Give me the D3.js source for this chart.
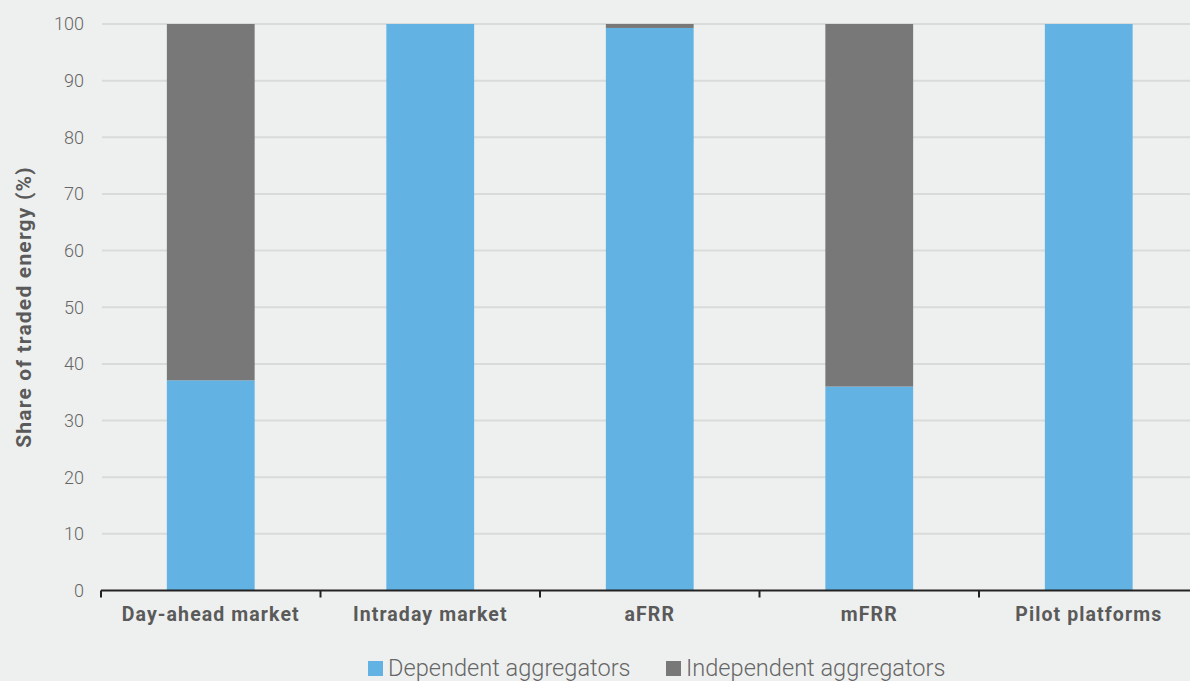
<!DOCTYPE html>
<html><head><meta charset="utf-8">
<script src="https://cdn.jsdelivr.net/npm/d3@7"></script>
<style>
body{margin:0;background:#eef0ef;}
svg{display:block;}
</style></head>
<body>
<svg id="c" width="1190" height="681"></svg>
<script>
const categories = ["Day-ahead market","Intraday market","aFRR","mFRR","Pilot platforms"];
const dependent = [37.1, 100, 99.3, 36.0, 100];
const independent = [62.9, 0, 0.7, 64.0, 0];
const seriesNames = ["Dependent aggregators","Independent aggregators"];
const yTicks = [0,10,20,30,40,50,60,70,80,90,100];

const colors = ["#62b3e4","#787878"];
const svg = d3.select("#c");
const W = 1190, H = 681;
svg.append("rect").attr("width",W).attr("height",H).attr("fill","#eef0ef");

const x0 = 101, step = 219.5;
const x = d3.scaleBand().domain(categories).range([x0, x0 + step*categories.length]).paddingInner(0).paddingOuter(0);
const y = d3.scaleLinear().domain([0,100]).range([590.5,24]);

// grid
svg.append("g").selectAll("line").data(yTicks.filter(d=>d>0)).join("line")
  .attr("x1",102).attr("x2",W).attr("y1",d=>y(d)).attr("y2",d=>y(d))
  .attr("stroke","#d9dbda").attr("stroke-width",2);

// y tick labels
svg.append("g").selectAll("text").data(yTicks).join("text")
  .attr("x",84).attr("y",d=>y(d)).attr("dy","0.35em").attr("text-anchor","end")
  .attr("font-family","Roboto").attr("font-weight",300).attr("font-size",18)
  .attr("fill","#666").text(d=>d);

// stacked data
const rows = categories.map((c,i)=>({cat:c, dep:dependent[i], ind:independent[i]}));
const stack = d3.stack().keys(["dep","ind"])(rows);
const bw = step*0.4;
svg.append("g").selectAll("g").data(stack).join("g").attr("fill",(d,i)=>colors[i])
  .selectAll("rect").data(d=>d.filter(p=>p[1]-p[0]>0)).join("rect")
  .attr("x",d=>x(d.data.cat)+(x.bandwidth()-bw)/2).attr("width",bw)
  .attr("y",d=>y(d[1])).attr("height",d=>y(d[0])-y(d[1]));

// x axis
const xa = svg.append("g").attr("transform",`translate(0,${y(0)})`);
xa.append("line").attr("x1",x0).attr("x2",W).attr("stroke","#222").attr("stroke-width",2);
xa.selectAll(".sep").data(d3.range(categories.length)).join("line").attr("class","sep")
  .attr("x1",i=>x0+i*step).attr("x2",i=>x0+i*step).attr("y1",0).attr("y2",7)
  .attr("stroke","#222").attr("stroke-width",2);
svg.append("g").selectAll("text").data(categories).join("text")
  .attr("x",d=>x(d)+x.bandwidth()/2).attr("y",621).attr("text-anchor","middle")
  .attr("font-family","Roboto").attr("font-weight",700).attr("font-size",19.5)
  .attr("letter-spacing",1.1)
  .attr("fill","#5a5a5a").text(d=>d);

// y title
svg.append("text").attr("transform","translate(31,307) rotate(-90)").attr("text-anchor","middle")
  .attr("font-family","Roboto").attr("font-weight",700).attr("font-size",21)
  .attr("letter-spacing",1.2)
  .attr("fill","#5a5a5a").text("Share of traded energy (%)");

// legend
const leg = svg.append("g");
const legX = [368, 666];
seriesNames.forEach((n,i)=>{
  leg.append("rect").attr("x",legX[i]).attr("y",661).attr("width",15).attr("height",15).attr("fill",colors[i]);
  leg.append("text").attr("x",legX[i]+20).attr("y",676).attr("font-family","Roboto").attr("font-weight",300)
    .attr("font-size",23.6).attr("fill","#666").text(n);
});
</script>
</body></html>
